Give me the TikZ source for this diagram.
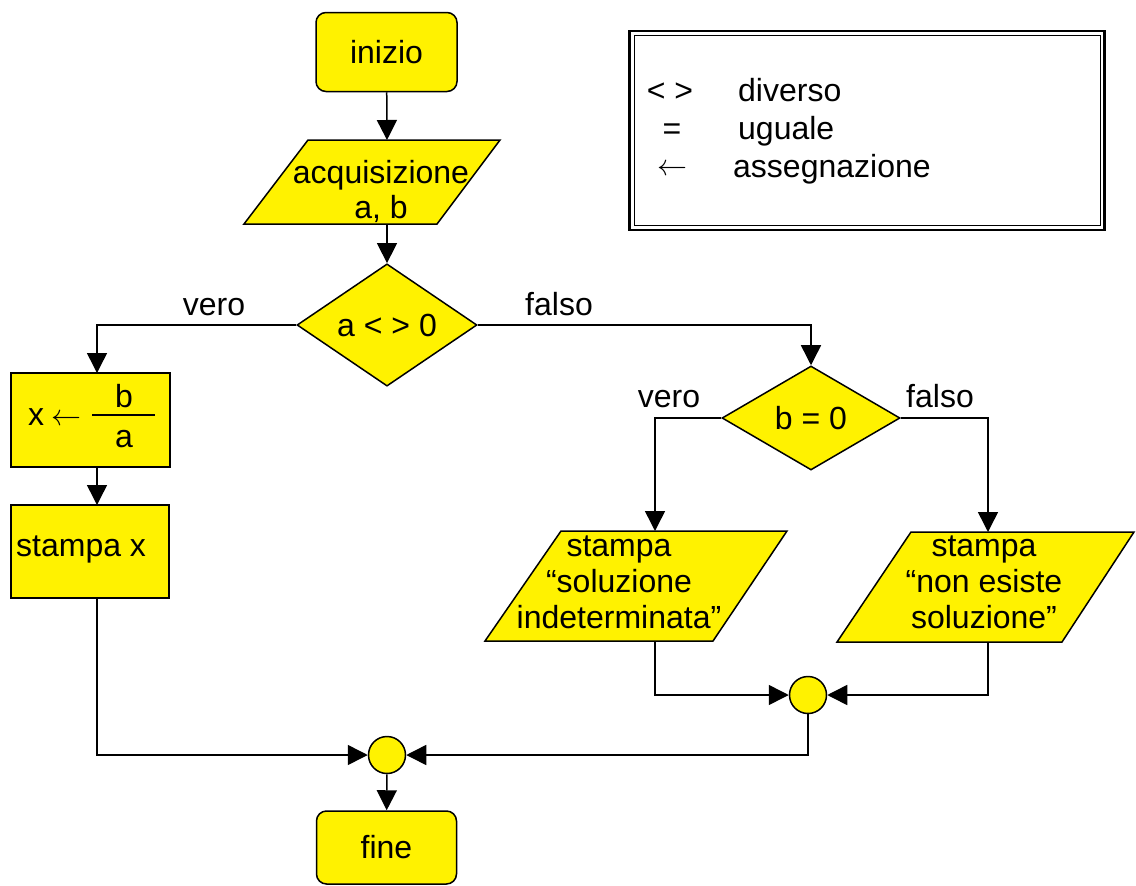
\documentclass[tikz,border=0pt]{standalone}
\usepackage{fontspec}
\usepackage{graphicx}
\setmainfont{Liberation Sans}
\usetikzlibrary{arrows.meta,shapes.geometric}
\newcommand{\assignarrow}{\resizebox{30pt}{!}{$\leftarrow$}}
\begin{document}
\begin{tikzpicture}[x=1pt,y=-1pt,
  every node/.style={font=\fontsize{32}{36}\selectfont},
  fc/.style={draw=black,fill=yellow,line width=1.5pt,inner sep=0pt},
  term/.style={fc,rectangle,rounded corners=10pt},
  proc/.style={fc,rectangle},
  dec/.style={fc,diamond},
  jn/.style={fc,circle,minimum size=37pt},
  io/.style={draw=black,fill=yellow,line width=1.5pt,line join=miter},
  lbl/.style={inner sep=0pt,anchor=base},
  flow/.style={line width=1.5pt,-{Triangle[length=20pt,width=20pt]}},
  legframe/.style={draw=black,rectangle,inner sep=0pt}
]
\useasboundingbox (0,0) rectangle (1136,886);

% legend
\node[legframe,line width=2.6pt,minimum width=475pt,minimum height=199pt] (legout) at (867,130.5) {};
\node[legframe,line width=1pt,minimum width=466pt,minimum height=190pt] (legin) at (867,130.5) {};
\node[lbl] (l1s) at (670,101) {< >};
\node[lbl,anchor=base west] (l1t) at (738,101) {diverso};
\node[lbl] (l2s) at (672,139) {=};
\node[lbl,anchor=base west] (l2t) at (738,139) {uguale};
\node[lbl] (l3s) at (672,175) {\assignarrow};
\node[lbl,anchor=base west] (l3t) at (733,177) {assegnazione};

% start
\node[term,minimum width=141pt,minimum height=79pt] (inizio) at (386.5,52) {inizio};

% input parallelogram
\draw[io] (308,140) -- (500,140) -- (437,224) -- (244,224) -- cycle;
\coordinate (acqN) at (387,140);
\coordinate (acqS) at (387,224);
\node[lbl] (acq1) at (381,183) {acquisizione};
\node[lbl] (acq2) at (381,218) {a, b};

% decision 1
\node[dec,minimum width=180pt,minimum height=104pt] (d1) at (387,325) {a < > 0};
\node[lbl] (v1) at (214,315) {vero};
\node[lbl] (f1) at (559,315) {falso};

% left branch
\node[proc,minimum width=159pt,minimum height=94pt] (asg) at (90.5,420) {};
\coordinate (asgN) at (97,373);
\coordinate (asgS) at (97,467);
\node[lbl,anchor=base west] (asgx) at (28,425) {x\hspace{7pt}\assignarrow};
\node[lbl] (asgb) at (124,407) {b};
\node[lbl] (asga) at (124,447) {a};
\draw[line width=2.5pt] (92,415) -- (155,415);

\node[proc,minimum width=158pt,minimum height=93pt] (stx) at (90,551.5) {};
\node[lbl,anchor=base west] (stxt) at (16,556) {stampa x};
\coordinate (stxN) at (97,505);
\coordinate (stxS) at (97,598);

% decision 2
\node[dec,minimum width=178pt,minimum height=104pt] (d2) at (811,418) {b = 0};
\node[lbl] (v2) at (669,407) {vero};
\node[lbl] (f2) at (940,407) {falso};

% output parallelograms
\draw[io] (561,531) -- (787,531) -- (713,641) -- (485,641) -- cycle;
\coordinate (pLN) at (655,531);
\coordinate (pLS) at (655,641);
\node[lbl] (pl1) at (619,556) {stampa};
\node[lbl] (pl2) at (619,592) {“soluzione};
\node[lbl] (pl3) at (619,628) {indeterminata”};

\draw[io] (911,532) -- (1134,532) -- (1062,642) -- (837,642) -- cycle;
\coordinate (pRN) at (988,532);
\coordinate (pRS) at (988,642);
\node[lbl] (pr1) at (984,556) {stampa};
\node[lbl] (pr2) at (984,592) {“non esiste};
\node[lbl] (pr3) at (984,628) {soluzione”};

% junctions
\node[jn] (c1) at (808,695) {};
\node[jn] (c2) at (387,755) {};

% end
\node[term,minimum width=140pt,minimum height=73pt] (fine) at (386.5,847.5) {fine};

% connectors
\draw[flow] (inizio) -- (acqN);
\draw[flow] (acqS) -- (d1);
\draw[flow] (d1.west) -| (asgN);
\draw[flow] (asgS) -- (stxN);
\draw[flow] (stxS) |- (c2);
\draw[flow] (d1.east) -| (d2);
\draw[flow] (d2.west) -| (pLN);
\draw[flow] (d2.east) -| (pRN);
\draw[flow] (pLS) |- (c1);
\draw[flow] (pRS) |- (c1);
\draw[flow] (c1) |- (c2);
\draw[flow] (c2) -- (fine);
\end{tikzpicture}
\end{document}
